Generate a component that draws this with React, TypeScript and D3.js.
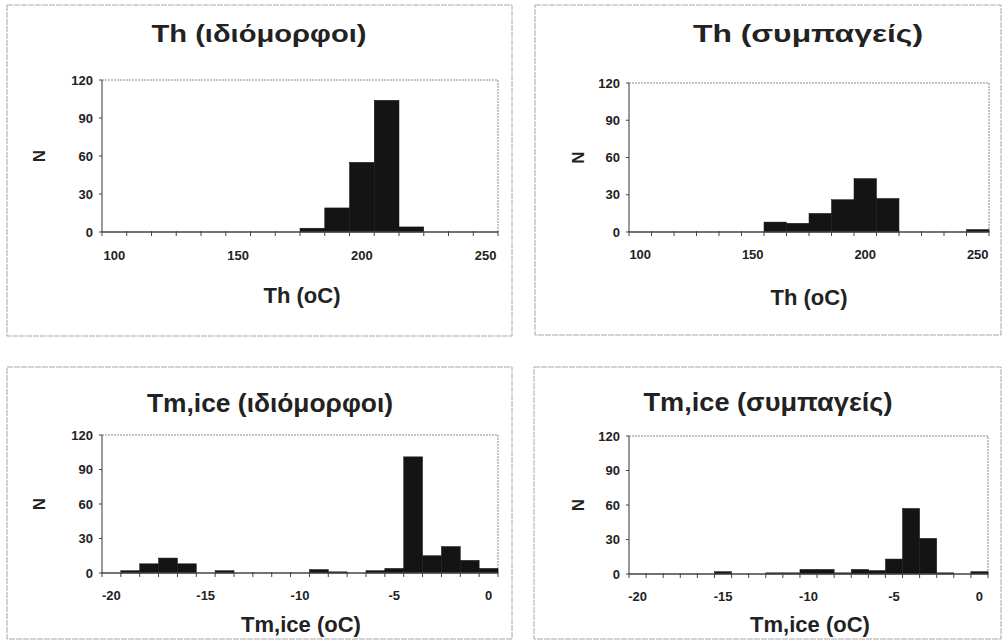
import React from "react";
import * as d3 from "d3";

// ---- Data ----
const thCategories = [100, 110, 120, 130, 140, 150, 160, 170, 180, 190, 200, 210, 220, 230, 240, 250];
const thTickLabels = [100, 150, 200, 250];
const thIdiomorphoi = [0, 0, 0, 0, 0, 0, 0, 0, 3, 19, 55, 104, 4, 0, 0, 0];
const thSympageis = [0, 0, 0, 0, 0, 0, 8, 7, 15, 26, 43, 27, 0, 0, 0, 2];

const tmCategories = [-20, -19, -18, -17, -16, -15, -14, -13, -12, -11, -10, -9, -8, -7, -6, -5, -4, -3, -2, -1, 0];
const tmTickLabels = [-20, -15, -10, -5, 0];
const tmIdiomorphoi = [0, 2, 8, 13, 8, 0, 2, 0, 0, 0, 0, 3, 1, 0, 2, 4, 101, 15, 23, 11, 4];
const tmSympageis = [0, 0, 0, 0, 0, 2, 0, 0, 1, 1, 4, 4, 1, 4, 3, 13, 57, 31, 1, 0, 2];

const yTicks = [0, 30, 60, 90, 120];

const FONT = "'Liberation Sans', Arial, sans-serif";
const INK = "#222";

type PanelProps = {
  box: [number, number, number, number];
  plot: { left: number; right: number; top: number; bottom: number };
  cats: number[];
  values: number[];
  tickLabels: number[];
  title: string;
  titleX: number;
  titleY: number;
  titleSize: number;
  titleWidth: number;
  xTitle: string;
  xTitleX: number;
  xTitleY: number;
  xLabelY: number;
  nX: number;
};

function Panel(p: PanelProps) {
  const x = d3
    .scaleBand<number>()
    .domain(p.cats)
    .range([p.plot.left, p.plot.right])
    .paddingInner(0)
    .paddingOuter(0);
  const y = d3.scaleLinear().domain([0, 120]).range([p.plot.bottom, p.plot.top]);
  const bw = x.bandwidth();
  const [bx, by, bwid, bh] = p.box;
  const boundaries = p.cats.map((c) => x(c) as number).concat([p.plot.right]);
  const midY = (p.plot.top + p.plot.bottom) / 2;
  return (
    <g>
      <rect x={bx} y={by} width={bwid} height={bh} fill="#fff" stroke="#a8a8a8" strokeWidth={1} strokeDasharray="6,1" />
      <text
        x={p.titleX}
        y={p.titleY}
        textAnchor="middle"
        fontFamily={FONT}
        fontWeight="bold"
        fontSize={p.titleSize}
        fill={INK}
        textLength={p.titleWidth}
        lengthAdjust="spacingAndGlyphs"
      >
        {p.title}
      </text>
      {/* plot area border (top & right) */}
      <path
        d={`M${p.plot.left},${p.plot.top}H${p.plot.right}V${p.plot.bottom}`}
        fill="none"
        stroke="#8a8a8a"
        strokeWidth={1}
        strokeDasharray="2,1"
      />
      {/* bars */}
      {p.values.map((v, i) =>
        v > 0 ? (
          <rect
            key={i}
            x={x(p.cats[i]) as number}
            y={y(v)}
            width={bw}
            height={y(0) - y(v)}
            fill="#141414"
            stroke="#141414"
            strokeWidth={0.5}
          />
        ) : null
      )}
      {/* axes */}
      <line x1={p.plot.left} x2={p.plot.left} y1={p.plot.top} y2={p.plot.bottom} stroke="#555" strokeWidth={1.2} />
      <line x1={p.plot.left} x2={p.plot.right} y1={p.plot.bottom} y2={p.plot.bottom} stroke="#444" strokeWidth={1.4} />
      {boundaries.map((bxx, i) => (
        <line key={"xt" + i} x1={bxx} x2={bxx} y1={p.plot.bottom - 1} y2={p.plot.bottom + 4} stroke="#444" strokeWidth={1} />
      ))}
      {yTicks.map((t) => (
        <line key={"yt" + t} x1={p.plot.left - 3} x2={p.plot.left} y1={y(t)} y2={y(t)} stroke="#444" strokeWidth={1} />
      ))}
      {yTicks.map((t) => (
        <text
          key={"yl" + t}
          x={p.plot.left - 9}
          y={y(t)}
          dy="0.36em"
          textAnchor="end"
          fontFamily={FONT}
          fontWeight="bold"
          fontSize={13}
          fill={INK}
        >
          {t}
        </text>
      ))}
      {p.tickLabels.map((t) => (
        <text
          key={"xl" + t}
          x={(x(t) as number) + bw / 2}
          y={p.xLabelY}
          textAnchor="middle"
          fontFamily={FONT}
          fontWeight="bold"
          fontSize={13}
          fill={INK}
        >
          {t}
        </text>
      ))}
      <text
        x={p.nX}
        y={midY}
        transform={`rotate(-90 ${p.nX} ${midY})`}
        textAnchor="middle"
        dy="0.36em"
        fontFamily={FONT}
        fontWeight="bold"
        fontSize={17}
        fill={INK}
      >
        N
      </text>
      <text x={p.xTitleX} y={p.xTitleY} textAnchor="middle" fontFamily={FONT} fontWeight="bold" fontSize={22} fill={INK}>
        {p.xTitle}
      </text>
    </g>
  );
}

export default function App() {
  return (
    <svg width={1004} height={640} style={{ position: "absolute", left: 0, top: 0, background: "#fff" }}>
      <rect width={1004} height={640} fill="#fff" />
      <Panel
        box={[7, 5, 505, 331]}
        plot={{ left: 102, right: 498, top: 80, bottom: 232 }}
        cats={thCategories}
        values={thIdiomorphoi}
        tickLabels={thTickLabels}
        title="Th (ιδιόμορφοι)"
        titleX={259}
        titleY={42}
        titleSize={24}
        titleWidth={215}
        xTitle="Th (oC)"
        xTitleX={302}
        xTitleY={303}
        xLabelY={260}
        nX={39}
      />
      <Panel
        box={[535, 5, 466, 330]}
        plot={{ left: 629, right: 989, top: 83, bottom: 232 }}
        cats={thCategories}
        values={thSympageis}
        tickLabels={thTickLabels}
        title="Th (συμπαγείς)"
        titleX={808}
        titleY={42}
        titleSize={24}
        titleWidth={230}
        xTitle="Th (oC)"
        xTitleX={809}
        xTitleY={305}
        xLabelY={259}
        nX={578}
      />
      <Panel
        box={[7, 367, 505, 272]}
        plot={{ left: 102, right: 498, top: 435, bottom: 573 }}
        cats={tmCategories}
        values={tmIdiomorphoi}
        tickLabels={tmTickLabels}
        title="Tm,ice (ιδιόμορφοι)"
        titleX={270}
        titleY={412}
        titleSize={25}
        titleWidth={246}
        xTitle="Tm,ice (oC)"
        xTitleX={301}
        xTitleY={632}
        xLabelY={600}
        nX={39}
      />
      <Panel
        box={[534, 367, 467, 272]}
        plot={{ left: 629, right: 988, top: 436, bottom: 574 }}
        cats={tmCategories}
        values={tmSympageis}
        tickLabels={tmTickLabels}
        title="Tm,ice (συμπαγείς)"
        titleX={768}
        titleY={411}
        titleSize={25}
        titleWidth={249}
        xTitle="Tm,ice (oC)"
        xTitleX={810}
        xTitleY={632}
        xLabelY={601}
        nX={578}
      />
    </svg>
  );
}
